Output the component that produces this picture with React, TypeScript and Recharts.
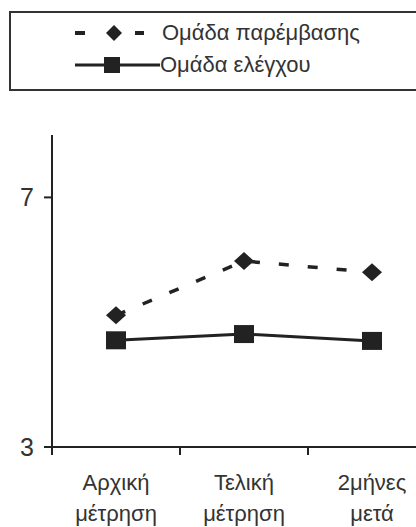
import { LineChart, Line, XAxis, YAxis } from 'recharts';

const categories = [
  ['Αρχική', 'μέτρηση'],
  ['Τελική', 'μέτρηση'],
  ['2μήνες', 'μετά'],
];
const interventionValues = [5.11, 5.98, 5.8];
const controlValues = [4.71, 4.81, 4.7];
const yTicks = [3, 7];
const seriesNames = ['Ομάδα παρέμβασης', 'Ομάδα ελέγχου'];

const INK = '#222';
const TEXT = '#333';
const FONT = '"Liberation Sans", Arial, sans-serif';

// x sits in the middle of each band so the tick marks fall between the categories
const data = categories.map((c, i) => ({
  x: i + 0.5,
  intervention: interventionValues[i],
  control: controlValues[i],
}));
const xTicks = [0, 0.5, 1, 1.5, 2, 2.5, 3];

const Diamond = (props: any) => {
  const { cx, cy } = props;
  if (cx == null || cy == null) return null;
  return <polygon points={`${cx},${cy - 9} ${cx + 10},${cy} ${cx},${cy + 9} ${cx - 10},${cy}`} fill={INK} />;
};

const Square = (props: any) => {
  const { cx, cy } = props;
  if (cx == null || cy == null) return null;
  return <rect x={cx - 10} y={cy - 9} width={20} height={18} fill={INK} />;
};

const XTick = (props: any) => {
  const { x, y, payload } = props;
  const v = payload.value as number;
  if (Number.isInteger(v)) {
    return <line x1={x} y1={y - 8} x2={x} y2={y} stroke={INK} strokeWidth={2} />;
  }
  const lines = categories[Math.floor(v)];
  return (
    <text x={x} y={y} textAnchor="middle" fill={TEXT} fontSize={22} fontFamily={FONT}>
      <tspan x={x} dy={35}>{lines[0]}</tspan>
      <tspan x={x} dy={31}>{lines[1]}</tspan>
    </text>
  );
};

function LegendBox() {
  return (
    <div
      style={{
        position: 'absolute',
        left: 9,
        top: 11,
        width: 420,
        height: 76,
        border: `2px solid ${TEXT}`,
        fontFamily: FONT,
        fontSize: 22,
        color: TEXT,
      }}
    >
      <div style={{ position: 'absolute', left: 61, top: 6, display: 'flex', alignItems: 'center', height: 28 }}>
        <svg width={90} height={20}>
          <line x1={3} y1={10} x2={13} y2={10} stroke={INK} strokeWidth={4} />
          <polygon points="42,2 50,10 42,18 34,10" fill={INK} />
          <line x1={63} y1={10} x2={72} y2={10} stroke={INK} strokeWidth={4} />
        </svg>
        <span>{seriesNames[0]}</span>
      </div>
      <div style={{ position: 'absolute', left: 61, top: 38, display: 'flex', alignItems: 'center', height: 28 }}>
        <svg width={88} height={20}>
          <line x1={3} y1={10} x2={88} y2={10} stroke={INK} strokeWidth={3} />
          <rect x={32} y={2} width={16} height={16} fill={INK} />
        </svg>
        <span>{seriesNames[1]}</span>
      </div>
    </div>
  );
}

export default function App() {
  return (
    <div style={{ position: 'absolute', left: 0, top: 0, width: 416, height: 527, overflow: 'hidden', background: '#fff' }}>
      <LegendBox />
      <LineChart width={440} height={527} data={data} margin={{ top: 135, right: 4, bottom: 0, left: 0 }}>
        <XAxis
          dataKey="x"
          type="number"
          domain={[0, 3]}
          ticks={xTicks}
          interval={0}
          height={80}
          tickSize={8}
          tickMargin={0}
          tickLine={false}
          tick={<XTick />}
          axisLine={{ stroke: INK, strokeWidth: 2 }}
        />
        <YAxis
          type="number"
          domain={[3, 8]}
          ticks={yTicks}
          width={52}
          tickSize={8}
          tickMargin={10}
          tick={{ fill: TEXT, fontSize: 25, fontFamily: FONT }}
          tickLine={{ stroke: INK, strokeWidth: 2 }}
          axisLine={{ stroke: INK, strokeWidth: 2 }}
        />
        <Line
          dataKey="intervention"
          name={seriesNames[0]}
          stroke={INK}
          strokeWidth={3.5}
          strokeDasharray="10 19"
          dot={<Diamond />}
          activeDot={false}
          isAnimationActive={false}
        />
        <Line
          dataKey="control"
          name={seriesNames[1]}
          stroke={INK}
          strokeWidth={3}
          dot={<Square />}
          activeDot={false}
          isAnimationActive={false}
        />
      </LineChart>
    </div>
  );
}
